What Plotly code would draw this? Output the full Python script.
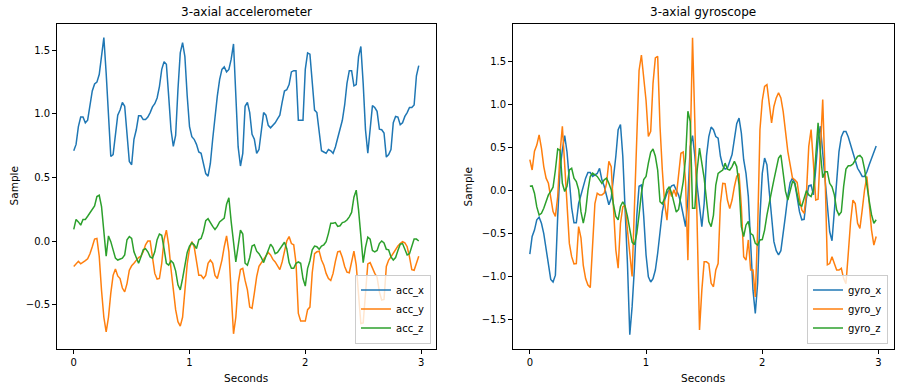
import plotly.graph_objects as go

# ---------------- data (sampled at 50 Hz) ----------------
sample_rate = 50

acc_x = [0.71, 0.76, 0.90, 0.975, 0.975, 0.93, 0.95, 1.06, 1.18, 1.235,
         1.25, 1.31, 1.48, 1.60, 1.32, 0.98, 0.665, 0.68, 0.85, 0.99,
         1.03, 1.09, 1.06, 0.82, 0.625, 0.60, 0.80, 0.875, 0.985, 0.985,
         0.955, 0.955, 0.975, 1.01, 1.055, 1.08, 1.125, 1.215, 1.35, 1.41,
         1.39, 1.14, 0.875, 0.745, 0.83, 1.19, 1.48, 1.56, 1.45, 1.14,
         0.90, 0.82, 0.80, 0.76, 0.70, 0.69, 0.61, 0.53, 0.51, 0.61,
         0.80, 0.98, 1.14, 1.27, 1.35, 1.37, 1.33, 1.35, 1.43, 1.55,
         1.19, 0.74, 0.59, 0.69, 1.06, 1.09, 1.01, 0.84, 0.80, 0.69,
         0.72, 0.85, 1.01, 0.99, 0.91, 0.89, 0.91, 0.93, 0.96, 0.99,
         1.09, 1.18, 1.19, 1.23, 1.33, 1.34, 1.34, 0.95, 0.95, 0.95,
         1.35, 1.48, 1.47, 1.22, 1.03, 1.01, 0.85, 0.71, 0.70, 0.69,
         0.72, 0.71, 0.69, 0.74, 0.81, 0.875, 0.95, 1.07, 1.24, 1.34,
         1.34, 1.22, 1.23, 1.45, 1.53, 1.24, 0.875, 0.69, 0.91, 1.065,
         1.05, 1.02, 0.88, 0.875, 0.85, 0.66, 0.68, 0.72, 0.93, 0.98,
         0.975, 0.915, 0.93, 0.98, 1.01, 1.05, 1.05, 1.07, 1.30, 1.38]

acc_y = [-0.20, -0.18, -0.16, -0.18, -0.17, -0.155, -0.14, -0.10, -0.045, 0.015,
         0.02, -0.12, -0.39, -0.60, -0.715, -0.60, -0.41, -0.27, -0.22, -0.275,
         -0.295, -0.37, -0.40, -0.335, -0.23, -0.195, -0.175, -0.15, -0.13, -0.12,
         -0.085, -0.03, 0.0, 0.0, -0.125, -0.255, -0.30, -0.295, -0.175, 0.01,
         0.085, -0.03, -0.22, -0.39, -0.54, -0.635, -0.67, -0.60, -0.41, -0.18,
         -0.06, -0.005, -0.045, -0.175, -0.27, -0.27, -0.295, -0.27, -0.175, -0.15,
         -0.175, -0.27, -0.295, -0.225, -0.15, -0.045, 0.04, -0.085, -0.385, -0.73,
         -0.60, -0.335, -0.225, -0.215, -0.31, -0.385, -0.52, -0.53, -0.41, -0.28,
         -0.20, -0.17, -0.145, -0.12, -0.09, -0.11, -0.145, -0.165, -0.20, -0.225,
         -0.165, -0.07, 0.0, 0.035, -0.02, -0.03, -0.175, -0.57, -0.63, -0.63,
         -0.63, -0.54, -0.52, -0.25, -0.10, -0.085, -0.08, -0.15, -0.19, -0.255,
         -0.295, -0.31, -0.255, -0.16, -0.085, -0.08, -0.13, -0.20, -0.245, -0.25,
         -0.16, -0.08, -0.19, -0.425, -0.65, -0.645, -0.41, -0.18, -0.17, -0.215,
         -0.255, -0.285, -0.40, -0.465, -0.46, -0.20, -0.15, -0.125, -0.095, -0.065,
         -0.04, -0.02, -0.005, -0.015, -0.045, -0.125, -0.225, -0.23, -0.175, -0.12]

acc_z = [0.092, 0.17, 0.15, 0.125, 0.17, 0.17, 0.195, 0.225, 0.25, 0.275,
         0.35, 0.36, 0.27, 0.06, -0.12, 0.04, -0.005, -0.07, -0.135, -0.15,
         -0.145, -0.135, -0.11, 0.01, 0.035, 0.02, -0.085, -0.135, -0.175, -0.125,
         -0.07, -0.06, -0.085, -0.125, -0.135, -0.085, 0.01, 0.055, 0.045, -0.06,
         -0.175, -0.19, -0.155, -0.175, -0.235, -0.345, -0.385, -0.295, -0.18, -0.09,
         -0.04, -0.015, -0.03, -0.06, 0.01, 0.02, 0.075, 0.16, 0.175, 0.14,
         0.115, 0.09, 0.115, 0.15, 0.165, 0.18, 0.29, 0.34, 0.15, -0.02,
         -0.165, -0.04, 0.085, 0.055, -0.175, -0.19, -0.13, -0.04, -0.03, -0.08,
         -0.10, -0.13, -0.17, -0.12, -0.07, -0.025, -0.05, -0.10, -0.09, -0.06,
         -0.035, -0.01, -0.06, -0.17, -0.215, -0.215, -0.175, -0.165, -0.175, -0.295,
         -0.355, -0.215, -0.155, -0.07, -0.04, -0.045, -0.065, -0.04, -0.03, -0.005,
         0.06, 0.14, 0.14, 0.145, 0.115, 0.12, 0.145, 0.15, 0.165, 0.19,
         0.225, 0.345, 0.40, 0.245, 0.04, -0.17, -0.05, 0.03, 0.015, -0.075,
         -0.085, -0.075, -0.02, 0.0, -0.015, -0.065, -0.07, -0.125, -0.15, -0.13,
         -0.075, -0.025, -0.02, -0.065, -0.11, -0.10, -0.05, 0.015, 0.015, 0.0]

gyro_x = [-0.74, -0.535, -0.46, -0.34, -0.31, -0.38, -0.50, -0.69, -0.89, -1.035,
          -1.065, -0.985, -0.30, 0.25, 0.475, 0.64, 0.45, 0.15, -0.20, -0.375,
          -0.375, -0.15, -0.05, 0.05, 0.145, 0.21, 0.21, 0.165, 0.185, 0.20,
          0.26, 0.125, 0.05, -0.07, -0.165, -0.09, 0.125, 0.40, 0.71, 0.77,
          0.40, -0.19, -0.85, -1.68, -1.355, -0.90, -0.30, 0.05, 0.065, -0.30,
          -0.75, -1.005, -1.065, -1.025, -0.925, -0.73, -0.46, -0.245, -0.11, -0.03,
          0.015, 0.055, 0.065, 0.01, -0.05, -0.15, -0.30, -0.42, -0.10, 0.51,
          0.64, 0.40, 0.05, -0.225, -0.42, -0.15, 0.40, 0.63, 0.74, 0.71,
          0.63, 0.61, 0.40, 0.29, 0.25, 0.26, 0.33, 0.42, 0.60, 0.78,
          0.845, 0.67, 0.36, 0.20, -0.07, -0.615, -1.16, -1.43, -1.08, -0.30,
          0.20, 0.38, 0.30, -0.01, -0.32, -0.595, -0.70, -0.75, -0.70, -0.52,
          -0.285, -0.06, 0.095, 0.145, 0.085, -0.08, -0.245, -0.34, -0.335, -0.09,
          0.055, 0.065, -0.05, 0.25, 0.60, 0.75, 0.435, 0.05, -0.205, -0.48,
          -0.585, -0.285, 0.105, 0.455, 0.625, 0.69, 0.69, 0.625, 0.535, 0.43,
          0.34, 0.26, 0.215, 0.165, 0.165, 0.22, 0.30, 0.38, 0.445, 0.52]

gyro_y = [0.36, 0.24, 0.46, 0.53, 0.65, 0.495, 0.28, 0.145, 0.085, -0.07,
          -0.245, -0.30, -0.07, 0.44, 0.75, 0.30, -0.225, -0.615, -0.77, -0.855,
          -0.85, -0.42, -0.55, -0.87, -1.025, -1.10, -1.13, -0.70, -0.15, -0.03,
          -0.05, -0.05, -0.03, 0.085, 0.34, 0.28, -0.225, -0.69, -0.905, -0.38,
          -0.19, -0.17, -0.46, -0.75, -1.0, -0.2, 0.75, 1.4, 1.58, 1.35,
          1.05, 0.63, 0.69, 1.25, 1.545, 1.565, 0.75, 0.24, -0.15, -0.345,
          0.01, -0.07, 0.01, -0.07, 0.20, 0.435, 0.45, 0.10, -0.81, 0.55,
          1.78, 0.79, -0.615, -1.625, -1.16, -0.83, -0.83, -0.85, -1.08, -1.12,
          -0.925, -0.85, -0.15, 0.085, 0.08, -0.11, -0.21, -0.11, 0.045, 0.165,
          0.20, -0.19, -0.77, -0.81, -0.575, -0.925, -0.925, -1.24, -0.46, 0.71,
          1.05, 1.215, 1.235, 1.0, 0.79, 0.98, 1.08, 1.14, 1.08, 0.92,
          0.69, 0.455, 0.30, 0.145, 0.125, 0.095, -0.09, -0.225, -0.265, -0.03,
          0.515, 0.71, 0.32, -0.11, -0.10, 0.55, 1.06, 0.20, -0.865, -0.85,
          -0.77, -0.85, -0.925, -0.925, -0.905, -1.025, -1.085, -0.73, -0.36, -0.11,
          -0.15, -0.38, -0.44, -0.225, 0.01, 0.165, -0.11, -0.46, -0.635, -0.535]

gyro_z = [0.05, 0.055, -0.03, -0.19, -0.285, -0.265, -0.205, -0.13, -0.05, -0.01,
          0.04, 0.24, 0.485, 0.47, 0.085, -0.01, 0.05, 0.24, 0.26, 0.145,
          0.105, 0.01, -0.245, -0.38, -0.245, 0.0, 0.165, 0.205, 0.185, 0.165,
          0.125, 0.085, 0.125, 0.145, 0.085, 0.01, -0.165, -0.30, -0.34, -0.185,
          -0.13, -0.185, -0.30, -0.45, -0.60, -0.63, -0.50, -0.28, -0.03, 0.13,
          0.165, 0.32, 0.445, 0.485, 0.40, 0.24, -0.13, -0.155, -0.09, 0.01,
          0.045, -0.03, -0.15, -0.25, -0.22, -0.05, 0.105, 0.38, 0.925, 0.805,
          -0.205, -0.205, 0.24, 0.495, 0.32, 0.145, -0.11, -0.36, -0.42, -0.285,
          0.065, 0.20, 0.22, 0.24, 0.32, 0.25, 0.24, 0.28, 0.34, 0.28,
          0.065, -0.42, -0.535, -0.40, -0.36, -0.50, -0.52, -0.615, -0.635, -0.575,
          -0.57, -0.46, -0.285, -0.13, -0.01, 0.125, 0.24, 0.38, 0.415, 0.22,
          -0.01, -0.11, -0.01, 0.105, 0.085, -0.05, -0.165, -0.18, -0.09, 0.0,
          -0.05, -0.07, 0.01, 0.38, 0.79, 0.45, 0.15, 0.22, 0.22, 0.085,
          0.045, -0.05, -0.225, -0.285, -0.25, 0.05, 0.25, 0.29, 0.29, 0.31,
          0.36, 0.40, 0.41, 0.38, 0.25, 0.05, -0.12, -0.28, -0.38, -0.34]

seconds = [i / sample_rate for i in range(len(acc_x))]

x_ticks = [0, 1, 2, 3]
acc_ticks = [-0.5, 0.0, 0.5, 1.0, 1.5]
gyro_ticks = [-1.5, -1.0, -0.5, 0.0, 0.5, 1.0, 1.5]

# ---------------- styling ----------------
colors = ["#1f77b4", "#ff7f0e", "#2ca02c"]
FONT = "DejaVu Sans, Liberation Sans, Arial, sans-serif"
W, H = 903, 391


def fmt(v):
    s = f"{v:.1f}"
    return s.replace("-", "\u2212")


fig = go.Figure()

for name, vals, c in zip(["acc_x", "acc_y", "acc_z"], [acc_x, acc_y, acc_z], colors):
    fig.add_trace(go.Scatter(x=seconds, y=vals, mode="lines", name=name,
                             line=dict(color=c, width=1.5),
                             xaxis="x", yaxis="y", legend="legend"))

for name, vals, c in zip(["gyro_x", "gyro_y", "gyro_z"], [gyro_x, gyro_y, gyro_z], colors):
    fig.add_trace(go.Scatter(x=seconds, y=vals, mode="lines", name=name,
                             line=dict(color=c, width=1.5),
                             xaxis="x2", yaxis="y2", legend="legend2"))

# axes placement (pixels -> paper)
left_dom = [56.5 / W, 436 / W]
right_dom = [512.5 / W, 893.5 / W]
y_dom = [(H - 349.3) / H, (H - 23.5) / H]

axis_common = dict(showgrid=False, zeroline=False, showline=True, mirror=True,
                   linecolor="black", linewidth=0.8, ticks="outside", ticklen=3.5,
                   tickwidth=0.8, tickcolor="black", automargin=False,
                   tickfont=dict(family=FONT, size=10, color="black"))

legend_common = dict(xanchor="right", yanchor="bottom",
                     bgcolor="rgba(255,255,255,0.8)", bordercolor="#cccccc", borderwidth=1,
                     font=dict(family=FONT, size=10, color="black"), itemwidth=30,
                     tracegroupgap=0)

fig.update_layout(
    width=W, height=H,
    margin=dict(l=0, r=0, t=0, b=0, autoexpand=False),
    paper_bgcolor="white", plot_bgcolor="white",
    font=dict(family=FONT, size=10, color="black"),
    xaxis=dict(domain=left_dom, range=[-0.149, 3.129], tickvals=x_ticks,
               ticktext=[str(v) for v in x_ticks], anchor="y", **axis_common),
    yaxis=dict(domain=y_dom, range=[-0.852, 1.711], tickvals=acc_ticks,
               ticktext=[fmt(v) for v in acc_ticks], anchor="x", **axis_common),
    xaxis2=dict(domain=right_dom, range=[-0.149, 3.129], tickvals=x_ticks,
                ticktext=[str(v) for v in x_ticks], anchor="y2", **axis_common),
    yaxis2=dict(domain=y_dom, range=[-1.849, 1.947], tickvals=gyro_ticks,
                ticktext=[fmt(v) for v in gyro_ticks], anchor="x2", **axis_common),
    legend=dict(x=431 / W, y=(H - 343.5) / H, **legend_common),
    legend2=dict(x=888 / W, y=(H - 343.5) / H, **legend_common),
    showlegend=True,
)

ymid = (y_dom[0] + y_dom[1]) / 2
annotations = [
    dict(text="3-axial accelerometer", x=(left_dom[0] + left_dom[1]) / 2, y=(H - 12) / H,
         font=dict(family=FONT, size=12, color="black")),
    dict(text="3-axial gyroscope", x=(right_dom[0] + right_dom[1]) / 2, y=(H - 12) / H,
         font=dict(family=FONT, size=12, color="black")),
    dict(text="Seconds", x=(left_dom[0] + left_dom[1]) / 2, y=(H - 378) / H,
         font=dict(family=FONT, size=10.5, color="black")),
    dict(text="Seconds", x=(right_dom[0] + right_dom[1]) / 2, y=(H - 378) / H,
         font=dict(family=FONT, size=10.5, color="black")),
    dict(text="Sample", x=14 / W, y=ymid, textangle=-90,
         font=dict(family=FONT, size=10.5, color="black")),
    dict(text="Sample", x=468 / W, y=ymid, textangle=-90,
         font=dict(family=FONT, size=10.5, color="black")),
]
for a in annotations:
    a.update(xref="paper", yref="paper", showarrow=False, xanchor="center", yanchor="middle")
fig.update_layout(annotations=annotations)

fig.write_html(
    "out.html",
    config={"displayModeBar": False},
    post_script="document.body.style.margin='0px'; document.body.style.overflow='hidden';",
)
